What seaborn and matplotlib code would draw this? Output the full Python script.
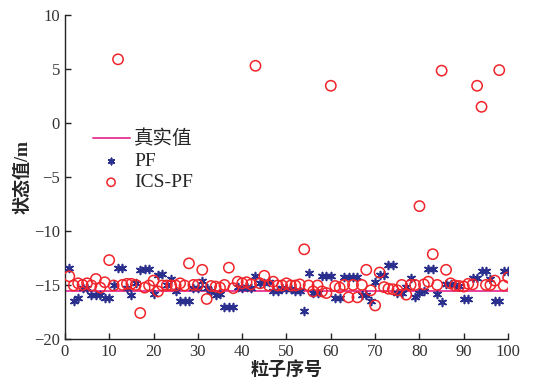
import numpy as np
import pandas as pd
import matplotlib
matplotlib.use("Agg")
import matplotlib.pyplot as plt
import seaborn as sns

# particle index and estimated state values
particle = list(range(1, 101))

pf = [-13.4, -16.5, -16.2, -15.3, -15.3, -15.9, -15.9, -15.9, -16.2, -16.2,
      -15.0, -13.4, -13.4, -15.3, -15.9, -14.8, -13.6, -13.5, -13.5, -15.85,
      -14.1, -14.0, -15.05, -14.45, -15.6, -16.5, -16.5, -16.5, -15.25, -15.25,
      -14.6, -15.3, -15.6, -15.9, -15.85, -17.05, -17.05, -17.05, -15.2, -15.3,
      -15.15, -15.25, -14.2, -14.8, -14.8, -14.7, -15.55, -15.55, -15.3, -15.4,
      -15.4, -15.55, -15.55, -17.45, -13.9, -15.75, -15.75, -14.2, -14.2, -14.2,
      -16.2, -16.2, -14.25, -14.25, -14.25, -14.25, -15.9, -15.9, -16.5, -14.7,
      -14.1, -14.1, -13.15, -13.15, -15.75, -15.75, -15.15, -14.4, -16.15, -15.75,
      -15.55, -13.5, -13.5, -15.85, -16.6, -14.9, -14.9, -15.0, -15.1, -16.3,
      -16.3, -14.4, -14.4, -13.7, -13.7, -14.45, -16.5, -16.5, -13.75, -13.75]

ics_pf = [-14.2, -15.05, -14.85, -15.0, -14.85, -15.05, -14.45, -15.25, -14.75, -12.7,
          -15.05, 5.9, -15.0, -14.9, -14.9, -15.0, -17.6, -15.25, -15.05, -14.6,
          -15.6, -15.05, -15.05, -15.05, -15.05, -14.85, -15.05, -13.0, -15.0, -15.0,
          -13.6, -16.3, -15.1, -15.15, -15.25, -15.0, -13.4, -15.3, -14.7, -14.85,
          -14.75, -14.95, 5.3, -14.85, -14.15, -15.05, -14.7, -15.05, -15.05, -14.85,
          -15.05, -15.05, -14.95, -11.7, -15.05, -15.6, -15.05, -15.6, -15.75, 3.45,
          -15.1, -15.25, -15.0, -16.15, -15.0, -16.15, -15.0, -13.6, -15.5, -16.9,
          -13.85, -15.2, -15.35, -15.4, -15.5, -15.0, -15.9, -15.0, -15.0, -7.7,
          -14.95, -14.7, -12.15, -15.0, 4.85, -13.6, -14.85, -15.05, -15.1, -15.15,
          -14.9, -14.95, 3.45, 1.5, -15.0, -15.0, -14.6, 4.9, -15.05, -14.3]

true_x = [0, 100]
true_y = [-15.6, -15.6]

df = pd.DataFrame({"particle": particle, "PF": pf, "ICS-PF": ics_pf})
df_true = pd.DataFrame({"particle": true_x, "value": true_y})

sns.set_style("ticks")
plt.rcParams['font.family'] = ['Liberation Serif', 'Noto Sans CJK SC']
plt.rcParams['axes.unicode_minus'] = True

fig = plt.figure(figsize=(5.36, 3.86), dpi=100)
ax = fig.add_axes([0.121, 0.122, 0.827, 0.839])

sns.lineplot(data=df_true, x="particle", y="value", ax=ax, color="#e8409c",
             linewidth=1.4, label="真实值")
sns.scatterplot(data=df, x="particle", y="PF", ax=ax, marker=(6, 2, 0), s=32,
                color="#2a2e8c", edgecolor="#2a2e8c", linewidth=1.2, label="PF", zorder=3)
sns.scatterplot(data=df, x="particle", y="ICS-PF", ax=ax, marker="o", s=55,
                facecolor="none", edgecolor="#f0242a", linewidth=1.1, label="ICS-PF", zorder=4)

ax.set_xlim(0, 100)
ax.set_ylim(-20, 10)
ax.set_xticks(np.arange(0, 101, 10))
ax.set_yticks(np.arange(-20, 11, 5))
ax.tick_params(direction="in", labelsize=12, length=4, width=1, colors="#222222")
for lbl in ax.get_xticklabels() + ax.get_yticklabels():
    lbl.set_color("#333333")
sns.despine(ax=ax)
for s in ["left", "bottom"]:
    ax.spines[s].set_color("#222222")
    ax.spines[s].set_linewidth(1.0)

ax.set_xlabel("粒子序号", fontsize=13, fontweight="bold", labelpad=1)
ax.set_ylabel("状态值/m", fontsize=13, fontweight="bold", labelpad=2)

leg = ax.legend(loc="upper left", bbox_to_anchor=(0.045, 0.67), frameon=False,
                fontsize=14, handlelength=1.9, handletextpad=0.25, labelspacing=0.2,
                borderaxespad=0, markerscale=0.8)

fig.savefig("out.png", dpi=100)
